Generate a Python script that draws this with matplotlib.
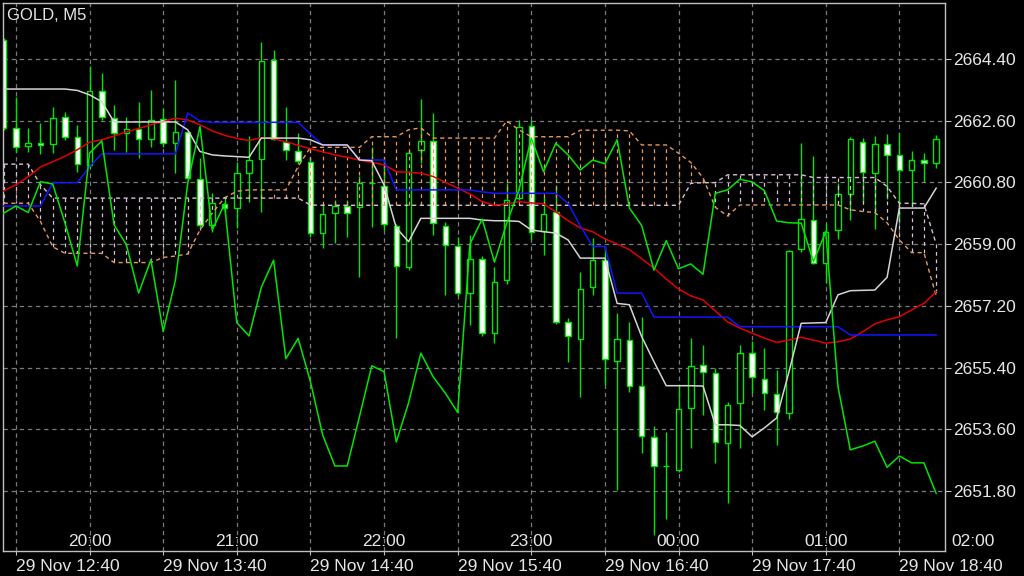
import matplotlib.pyplot as plt
from matplotlib.transforms import blended_transform_factory

plt.rcParams['font.family'] = ['Liberation Sans', 'DejaVu Sans']

symbol = 'GOLD, M5'

# OHLC per 5-minute bar
opens = [2664.95, 2662.39, 2661.86, 2661.94, 2661.92, 2662.71, 2662.13, 2661.31, 2663.47, 2662.68,
         2662.24, 2662.36, 2662.07, 2662.65, 2661.95, 2662.27, 2660.90, 2659.56, 2660.17, 2660.05,
         2661.08, 2661.48, 2664.37, 2661.98, 2661.72, 2661.40, 2659.33, 2659.91, 2660.11, 2660.08,
         2660.77, 2660.70, 2659.53, 2658.33, 2661.75, 2662.01, 2659.53, 2658.95, 2657.58, 2658.57,
         2656.41, 2657.95, 2660.35, 2662.45, 2659.38, 2659.94, 2656.73, 2656.23, 2657.75, 2658.54,
         2655.59, 2656.20, 2654.86, 2653.38, 2652.53, 2652.41, 2654.22, 2655.48, 2655.24, 2653.20,
         2654.37, 2655.82, 2655.07, 2654.63, 2654.08, 2658.86, 2659.70, 2658.45, 2659.41, 2660.46,
         2661.98, 2661.08, 2661.92, 2661.60, 2661.16, 2661.45, 2661.37]
highs = [2665.01, 2663.29, 2662.39, 2662.53, 2663.00, 2662.85, 2662.48, 2664.20, 2663.99, 2663.06,
         2662.71, 2663.15, 2663.50, 2662.97, 2663.79, 2662.30, 2661.51, 2660.49, 2660.38, 2661.40,
         2662.15, 2664.90, 2664.66, 2663.00, 2662.24, 2661.51, 2660.20, 2660.29, 2660.29, 2660.99,
         2661.83, 2661.45, 2659.59, 2661.75, 2663.23, 2662.83, 2659.65, 2659.21, 2659.27, 2658.65,
         2658.33, 2660.78, 2662.62, 2662.62, 2660.38, 2660.73, 2656.85, 2658.19, 2659.18, 2658.92,
         2656.99, 2656.73, 2656.88, 2653.70, 2653.52, 2654.89, 2656.26, 2656.06, 2655.39, 2654.40,
         2656.06, 2656.17, 2655.97, 2655.33, 2658.83, 2661.95, 2661.57, 2659.62, 2660.78, 2662.13,
         2662.10, 2662.15, 2662.21, 2662.24, 2661.72, 2661.66, 2662.18]
lows = [2662.33, 2661.69, 2661.69, 2661.63, 2661.66, 2662.04, 2661.10, 2661.22, 2662.62, 2661.75,
        2661.69, 2661.51, 2661.83, 2661.83, 2661.08, 2660.87, 2659.47, 2659.35, 2659.85, 2659.47,
        2660.23, 2659.94, 2662.04, 2661.45, 2661.34, 2659.21, 2658.89, 2659.03, 2659.21, 2658.04,
        2659.50, 2659.41, 2656.26, 2658.25, 2661.37, 2659.27, 2657.52, 2657.49, 2656.64, 2656.32,
        2656.12, 2657.84, 2660.29, 2659.12, 2658.68, 2656.67, 2655.56, 2654.54, 2657.52, 2654.89,
        2651.83, 2654.69, 2652.91, 2650.52, 2650.98, 2652.35, 2653.05, 2654.02, 2652.62, 2651.45,
        2653.05, 2654.66, 2654.16, 2653.14, 2653.90, 2658.77, 2658.42, 2657.87, 2659.15, 2659.70,
        2660.23, 2659.44, 2660.32, 2659.65, 2660.14, 2660.81, 2661.22]
closes = [2662.39, 2661.83, 2661.95, 2661.89, 2662.68, 2662.13, 2661.34, 2663.47, 2662.71, 2662.24,
          2662.36, 2662.07, 2662.62, 2661.95, 2662.27, 2660.93, 2659.56, 2660.20, 2660.05, 2661.08,
          2661.45, 2664.34, 2662.07, 2661.75, 2661.43, 2659.33, 2659.88, 2660.11, 2659.91, 2660.78,
          2660.77, 2659.59, 2658.36, 2661.66, 2662.01, 2659.62, 2658.98, 2657.58, 2658.57, 2656.41,
          2657.90, 2660.29, 2662.42, 2659.35, 2659.88, 2656.73, 2656.32, 2657.69, 2658.54, 2655.65,
          2656.23, 2654.86, 2653.40, 2652.53, 2652.53, 2654.19, 2655.45, 2655.27, 2653.23, 2654.31,
          2655.82, 2655.12, 2654.66, 2654.10, 2658.80, 2659.73, 2658.45, 2659.35, 2660.46, 2662.07,
          2661.10, 2661.92, 2661.60, 2661.16, 2661.45, 2661.37, 2662.07]

# indicator lines
white_line = [2663.52, 2663.52, 2663.52, 2663.52, 2663.52, 2663.52, 2663.48, 2663.35, 2663.15, 2662.56,
              2662.56, 2662.56, 2662.56, 2662.56, 2662.56, 2662.33, 2661.70, 2661.60, 2661.57, 2661.55,
              2661.53, 2662.09, 2662.09, 2662.09, 2662.09, 2662.04, 2661.89, 2661.89, 2661.89, 2661.45,
              2661.43, 2660.73, 2659.47, 2659.07, 2659.75, 2659.75, 2659.75, 2659.75, 2659.75, 2659.70,
              2659.68, 2659.68, 2659.66, 2659.41, 2659.36, 2659.32, 2659.12, 2658.59, 2658.59, 2658.59,
              2657.27, 2657.23, 2656.30, 2655.57, 2654.87, 2654.87, 2654.87, 2654.86, 2653.73, 2653.73,
              2653.71, 2653.38, 2653.64, 2653.93, 2655.27, 2656.69, 2656.70, 2656.71, 2657.52, 2657.64,
              2657.65, 2657.66, 2658.03, 2660.05, 2660.05, 2660.05, 2660.63]
blue_line = [2660.11, 2660.11, 2660.11, 2660.11, 2660.79, 2660.79, 2660.79, 2661.26, 2661.63, 2661.63,
             2661.63, 2661.63, 2661.63, 2661.63, 2661.63, 2662.82, 2662.59, 2662.55, 2662.55, 2662.55,
             2662.55, 2662.55, 2662.55, 2662.55, 2662.55, 2662.21, 2661.88, 2661.88, 2661.88, 2661.45,
             2661.45, 2661.45, 2660.58, 2660.58, 2660.58, 2660.58, 2660.58, 2660.58, 2660.58, 2660.52,
             2660.48, 2660.48, 2660.48, 2660.48, 2660.48, 2660.48, 2660.19, 2659.53, 2658.93, 2658.93,
             2657.57, 2657.57, 2657.57, 2656.87, 2656.87, 2656.87, 2656.87, 2656.87, 2656.87, 2656.87,
             2656.59, 2656.59, 2656.59, 2656.59, 2656.59, 2656.59, 2656.59, 2656.59, 2656.59, 2656.35,
             2656.35, 2656.35, 2656.35, 2656.35, 2656.35, 2656.35, 2656.35]
red_line = [2660.55, 2660.73, 2660.96, 2661.25, 2661.40, 2661.56, 2661.75, 2661.97, 2662.04, 2662.15,
            2662.27, 2662.37, 2662.48, 2662.57, 2662.67, 2662.62, 2662.48, 2662.30, 2662.17, 2662.08,
            2662.02, 2662.10, 2662.07, 2661.98, 2661.88, 2661.78, 2661.69, 2661.60, 2661.53, 2661.45,
            2661.38, 2661.31, 2661.11, 2661.09, 2661.07, 2660.97, 2660.80, 2660.63, 2660.46, 2660.24,
            2660.13, 2660.17, 2660.24, 2660.20, 2660.17, 2659.94, 2659.68, 2659.47, 2659.36, 2659.15,
            2659.00, 2658.84, 2658.57, 2658.30, 2657.98, 2657.69, 2657.49, 2657.37, 2657.05, 2656.73,
            2656.55, 2656.40, 2656.26, 2656.13, 2656.20, 2656.28, 2656.20, 2656.11, 2656.15, 2656.23,
            2656.44, 2656.67, 2656.79, 2656.88, 2657.08, 2657.27, 2657.61]
chikou = [2659.90, 2660.11, 2659.92, 2660.82, 2660.75, 2659.61, 2658.36, 2661.65, 2662.01, 2659.56,
          2658.98, 2657.57, 2658.54, 2656.45, 2657.95, 2660.77, 2662.43, 2659.41, 2660.17, 2656.71,
          2656.32, 2657.74, 2658.53, 2655.66, 2656.25, 2654.99, 2653.43, 2652.53, 2652.53, 2653.97,
          2655.45, 2655.28, 2653.23, 2654.37, 2655.82, 2655.13, 2654.65, 2654.09, 2659.00, 2659.73,
          2658.47, 2659.61, 2660.58, 2662.09, 2661.11, 2661.94, 2661.60, 2661.16, 2661.45, 2661.34,
          2662.04, 2660.05, 2659.54, 2658.24, 2659.10, 2658.28, 2658.42, 2658.12, 2660.48, 2660.58,
          2660.89, 2660.81, 2660.56, 2659.67, 2659.62, 2659.61, 2658.49, 2659.36, 2654.84, 2653.00,
          2653.11, 2653.25, 2652.49, 2652.82, 2652.62, 2652.62, 2651.73]
span_a = [2660.19, 2660.19, 2660.19, 2659.66, 2658.92, 2658.73, 2658.73, 2658.73, 2658.73, 2658.46,
          2658.46, 2658.46, 2658.46, 2658.61, 2658.65, 2658.71, 2659.41, 2659.90, 2660.35, 2660.54,
          2660.58, 2660.58, 2660.58, 2660.58, 2661.26, 2661.82, 2661.82, 2661.82, 2661.82, 2661.82,
          2662.13, 2662.13, 2662.13, 2662.33, 2662.39, 2662.09, 2662.09, 2662.09, 2662.09, 2662.09,
          2662.09, 2662.59, 2662.33, 2662.13, 2662.13, 2662.13, 2662.13, 2662.32, 2662.32, 2662.32,
          2662.32, 2662.30, 2661.89, 2661.89, 2661.89, 2661.65, 2661.38, 2660.93, 2660.07, 2659.82,
          2660.14, 2660.14, 2660.14, 2660.14, 2660.14, 2660.14, 2660.14, 2660.14, 2660.14, 2660.00,
          2659.95, 2659.92, 2659.62, 2659.12, 2658.75, 2658.75, 2657.49]
span_b = [2661.33, 2661.33, 2661.33, 2660.73, 2660.34, 2660.34, 2660.34, 2660.34, 2660.34, 2660.34,
          2660.34, 2660.34, 2660.34, 2660.34, 2660.34, 2660.34, 2660.34, 2660.34, 2660.34, 2660.34,
          2660.34, 2660.34, 2660.34, 2660.34, 2660.34, 2660.14, 2660.13, 2660.13, 2660.13, 2660.13,
          2660.13, 2660.13, 2660.13, 2660.13, 2660.13, 2660.13, 2660.13, 2660.13, 2660.13, 2660.13,
          2660.13, 2660.13, 2660.13, 2660.13, 2660.13, 2660.13, 2660.13, 2660.13, 2660.13, 2660.13,
          2660.13, 2660.13, 2660.13, 2660.13, 2660.13, 2660.13, 2660.77, 2660.79, 2660.79, 2661.02,
          2661.02, 2661.02, 2661.02, 2661.02, 2661.02, 2661.02, 2660.94, 2660.94, 2660.94, 2660.94,
          2660.94, 2660.94, 2660.68, 2660.19, 2660.19, 2660.17, 2659.00]

price_ticks = [2651.80, 2653.60, 2655.40, 2657.20, 2659.00, 2660.80, 2662.60, 2664.40]
hour_labels = ['20:00', '21:00', '22:00', '23:00', '00:00', '01:00', '02:00']
date_labels = ['29 Nov 12:40', '29 Nov 13:40', '29 Nov 14:40', '29 Nov 15:40',
               '29 Nov 16:40', '29 Nov 17:40', '29 Nov 18:40']

green = '#00E600'
sandy = '#E8985A'
thistle = '#D8BFD8'
txt = '#E6E6E6'

fig = plt.figure(figsize=(10.24, 5.76), dpi=100, facecolor='black')
ax = fig.add_axes([3.3 / 1024, 1 - 551 / 576, (945 - 3.3) / 1024, (551 - 3.3) / 576])
ax.set_facecolor('black')

x = list(range(len(opens)))
ax.set_xlim(-0.03, 76.72)
ax.set_ylim(2650.05, 2666.02)

# candles
ax.vlines(x, lows, highs, colors=green, linewidth=1, zorder=2)
bottoms = [min(o, c) for o, c in zip(opens, closes)]
heights = [abs(c - o) for o, c in zip(opens, closes)]
faces = ['white' if c < o else 'black' for o, c in zip(opens, closes)]
ax.bar(x, heights, bottom=bottoms, width=0.45, color=faces, edgecolor=green,
       linewidth=1, zorder=2.5)

# cloud hatching
for k in x:
    col = sandy if span_a[k] >= span_b[k] else thistle
    ax.vlines(k, span_b[k], span_a[k], colors=col, linewidth=0.9,
              linestyles=(0, (3, 3)), zorder=3)
ax.plot(x, span_a, color=sandy, linewidth=1, linestyle=(0, (3, 2.5)), zorder=3)
ax.plot(x, span_b, color=thistle, linewidth=1, linestyle=(0, (3, 2.5)), zorder=3)

ax.plot(x, red_line, color='#E00000', linewidth=1.1, zorder=3.5)
ax.plot(x, blue_line, color='#1414FF', linewidth=1.1, zorder=3.5)
ax.plot(x, white_line, color='#D4D4D4', linewidth=1.1, zorder=3.5)
ax.plot(x, chikou, color=green, linewidth=1.1, zorder=3.6)

# axes, grid, labels
ax.yaxis.tick_right()
ax.set_yticks(price_ticks)
ax.set_yticklabels([f'{p:.2f}' for p in price_ticks])
grid_pos = list(range(1, 77, 6))
ax.set_xticks(grid_pos)
ax.set_xticklabels([date_labels[i // 2] if i % 2 == 0 else '' for i in range(len(grid_pos))],
                   ha='left')
ax.tick_params(axis='y', colors='#BFBFBF', labelcolor=txt, length=4, pad=2, labelsize=12.5)
ax.tick_params(axis='x', colors='#BFBFBF', labelcolor=txt, length=3, pad=3, labelsize=12.5)
ax.set_axisbelow(True)
ax.grid(True, color='#7A7A7A', linewidth=0.9, linestyle=(0, (3.5, 3)))
for s in ax.spines.values():
    s.set_color('#BFBFBF')
    s.set_linewidth(1)

trans = blended_transform_factory(ax.transData, ax.transAxes)
for i, lab in enumerate(hour_labels):
    ax.text(7 + 12 * i, 0.004, lab, transform=trans, ha='center', va='bottom',
            color=txt, fontsize=12.5, clip_on=False, zorder=5)

fig.text(7 / 1024, 1 - 16 / 576, symbol, color=txt, fontsize=12, va='center', ha='left')

fig.savefig('out.png', dpi=100, facecolor='black')
